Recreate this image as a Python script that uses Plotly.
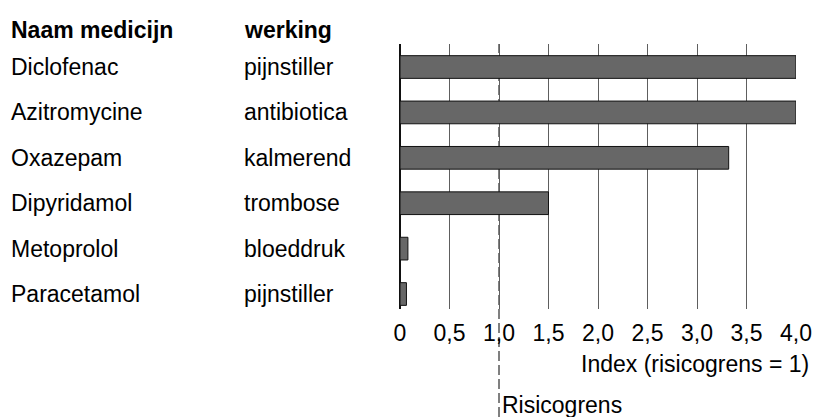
import plotly.graph_objects as go

medicines = ["Diclofenac", "Azitromycine", "Oxazepam", "Dipyridamol", "Metoprolol", "Paracetamol"]
werking = ["pijnstiller", "antibiotica", "kalmerend", "trombose", "bloeddruk", "pijnstiller"]
index_values = [4.0, 4.0, 3.32, 1.5, 0.08, 0.065]
tick_vals = [0, 0.5, 1.0, 1.5, 2.0, 2.5, 3.0, 3.5, 4.0]
tick_text = ["0", "0,5", "1,0", "1,5", "2,0", "2,5", "3,0", "3,5", "4,0"]
risk_limit = 1.0

FONT = "Liberation Sans, Arial, sans-serif"
FS = 23

W, H = 815, 417
L, R, T, B = 400, 19, 44, 108
PH = H - T - B

def px_y(py):
    return (H - B - py) / PH

fig = go.Figure()
fig.add_trace(go.Bar(
    x=index_values, y=medicines, orientation="h",
    width=0.5,
    marker=dict(color="#676767", line=dict(color="#111111", width=1)),
    showlegend=False, hoverinfo="skip",
))

tf = dict(family=FONT, size=FS, color="black")
annotations = []
annotations.append(dict(text="<b>Naam medicijn</b>", xref="paper", yref="paper",
                        x=0, xshift=9 - L, y=px_y(30), xanchor="left", yanchor="middle",
                        showarrow=False, font=tf))
annotations.append(dict(text="<b>werking</b>", xref="paper", yref="paper",
                        x=0, xshift=242 - L, y=px_y(30), xanchor="left", yanchor="middle",
                        showarrow=False, font=tf))
for name, w in zip(medicines, werking):
    annotations.append(dict(text=name, xref="paper", yref="y", x=0, xshift=9 - L, y=name,
                            xanchor="left", yanchor="middle", showarrow=False, font=tf))
    annotations.append(dict(text=w, xref="paper", yref="y", x=0, xshift=242 - L, y=name,
                            xanchor="left", yanchor="middle", showarrow=False, font=tf))
annotations.append(dict(text="Index (risicogrens = 1)", xref="paper", yref="paper",
                        x=1, xshift=15, y=px_y(364), xanchor="right", yanchor="middle",
                        showarrow=False, font=tf))
annotations.append(dict(text="Risicogrens", xref="x", yref="paper",
                        x=risk_limit, xshift=1, y=px_y(405), xanchor="left", yanchor="middle",
                        showarrow=False, font=tf))

fig.add_shape(type="line", xref="x", yref="paper", x0=risk_limit, x1=risk_limit,
              y0=px_y(417), y1=1.0, layer="below",
              line=dict(color="black", width=1, dash="10px,4px"))

fig.update_layout(
    width=W, height=H, autosize=False,
    margin=dict(l=L, r=R, t=T, b=B, pad=0, autoexpand=False),
    plot_bgcolor="white", paper_bgcolor="white",
    annotations=annotations,
    font=tf,
    xaxis=dict(range=[0, 4.0], tickvals=tick_vals, ticktext=tick_text,
               showgrid=True, gridcolor="#5e5e5e", gridwidth=1,
               zeroline=True, zerolinecolor="#111111", zerolinewidth=2,
               showline=False, ticks="", ticklabelstandoff=8, tickfont=tf,
               fixedrange=True, automargin=False),
    yaxis=dict(type="category", categoryorder="array", categoryarray=medicines,
               range=[5.33, -0.507], showticklabels=False, showgrid=False,
               zeroline=False, showline=False, ticks="", fixedrange=True, automargin=False),
)

fig.write_html("out.html", config={"displayModeBar": False},
               post_script="document.body.style.margin='0';document.body.style.overflow='hidden';")
